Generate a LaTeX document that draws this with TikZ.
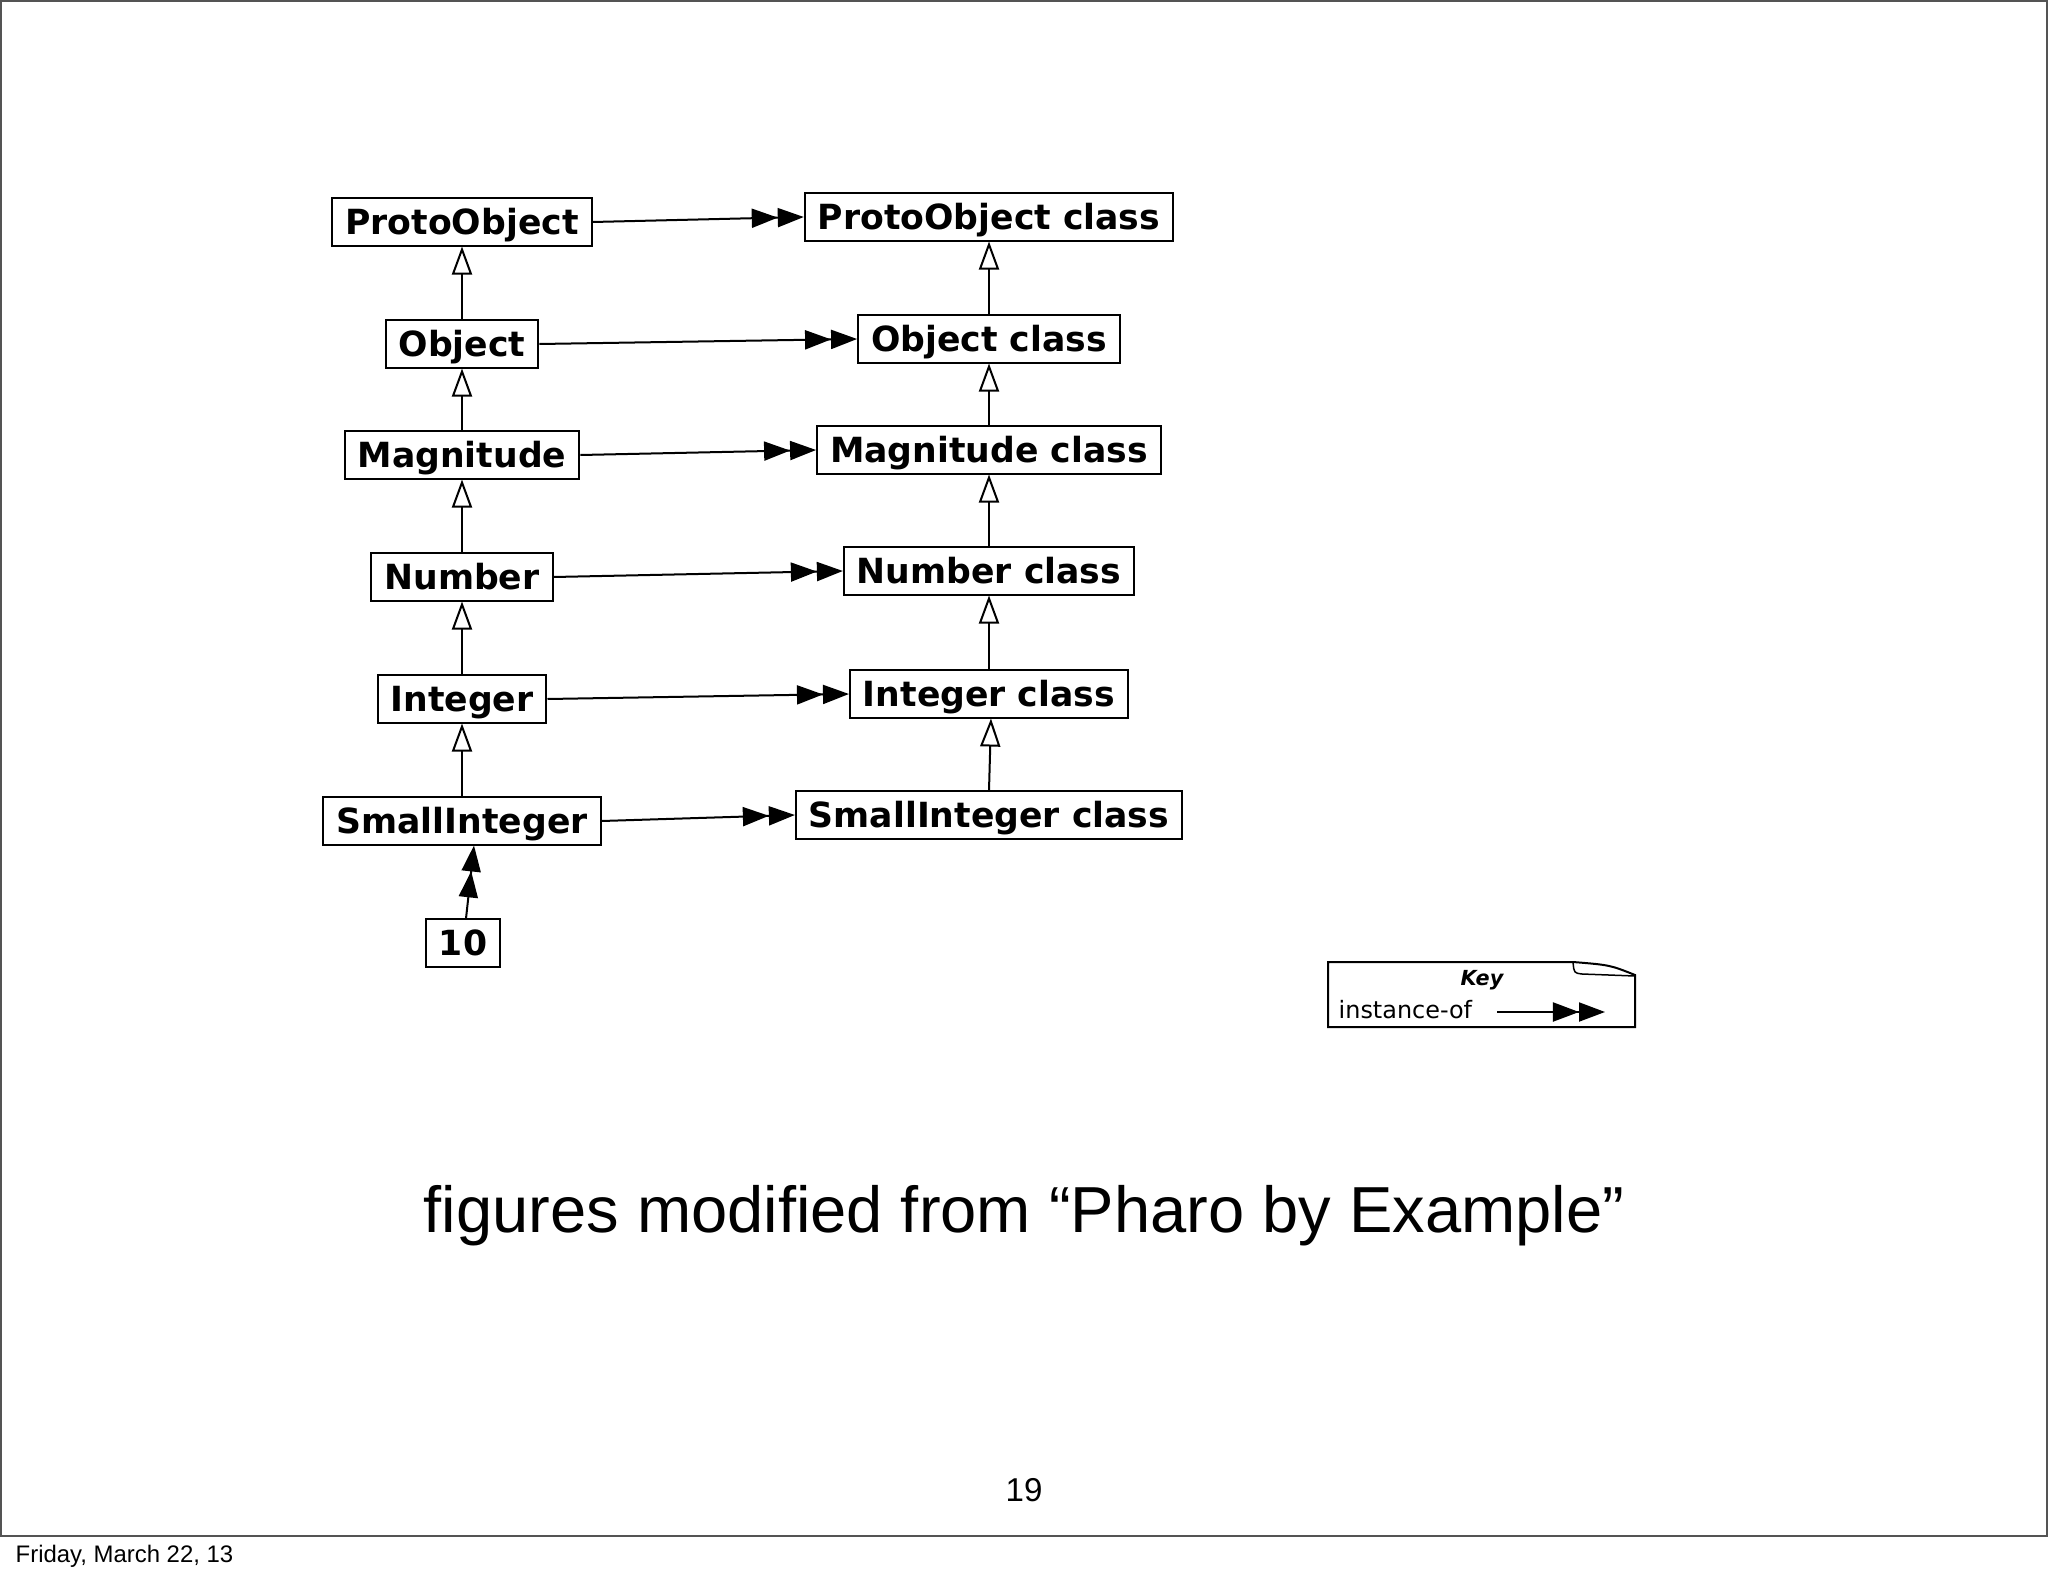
\documentclass[tikz,border=0pt]{standalone}
\usepackage{fontspec}
\setmainfont{Liberation Sans}
\newfontfamily\boxfont{DejaVu Sans}
\usetikzlibrary{arrows.meta}
\begin{document}
\begin{tikzpicture}[x=0.01cm,y=-0.01cm,
        cls/.style={draw,line width=0.02cm,inner xsep=0.13cm,inner ysep=0pt,minimum height=0.47cm,
            text height=0.31cm,text depth=0.06cm,font=\boxfont\bfseries\fontsize{9.85}{12}\selectfont},
        inst/.style={line width=0.02cm,-{Triangle[length=0.26cm,width=0.19cm,sep=0pt]Triangle[length=0.26cm,width=0.19cm]}},
        isa/.style={line width=0.02cm,-{Triangle[open,length=0.28cm,width=0.2cm,fill=white]}}]
        \useasboundingbox (0,0) rectangle (2048,1576);
        \draw[black!67,line width=0.02cm] (1,1) rectangle (2047,1536);
        \node[cls] (proto) at (462,222) {ProtoObject};
        \node[cls] (obj) at (462,344) {Object};
        \node[cls] (mag) at (462,455) {Magnitude};
        \node[cls] (num) at (462,577) {Number};
        \node[cls] (int) at (462,699) {Integer};
        \node[cls] (small) at (462,821) {SmallInteger};
        \node[cls] (ten) at (463,943) {10};
        \node[cls] (protoC) at (989,217) {ProtoObject class};
        \node[cls] (objC) at (989,339) {Object class};
        \node[cls] (magC) at (989,450) {Magnitude class};
        \node[cls] (numC) at (989,571) {Number class};
        \node[cls] (intC) at (989,694) {Integer class};
        \node[cls] (smallC) at (989,815) {SmallInteger class};
        \draw[isa] (obj.north) -- (proto.south);
        \draw[isa] (mag.north) -- (obj.south);
        \draw[isa] (num.north) -- (mag.south);
        \draw[isa] (int.north) -- (num.south);
        \draw[isa] (small.north) -- (int.south);
        \draw[isa] (objC.north) -- (protoC.south);
        \draw[isa] (magC.north) -- (objC.south);
        \draw[isa] (numC.north) -- (magC.south);
        \draw[isa] (intC.north) -- (numC.south);
        \draw[isa] (smallC.north) -- ([xshift=0.02cm]intC.south);
        \draw[inst] (proto.east) -- (protoC.west);
        \draw[inst] (obj.east) -- (objC.west);
        \draw[inst] (mag.east) -- (magC.west);
        \draw[inst] (num.east) -- (numC.west);
        \draw[inst] (int.east) -- (intC.west);
        \draw[inst] (small.east) -- (smallC.west);
        \draw[inst] ([xshift=0.03cm]ten.north) -- ([xshift=0.12cm]small.south);
        \draw[line width=0.02cm] (1328,962) -- (1573,962) .. controls (1610,965) .. (1635,975) -- (1635,1027) -- (1328,1027) -- cycle;
        \draw[line width=0.015cm] (1573,962) .. controls (1574,973) .. (1582,974) -- (1635,976);
        \node[font=\boxfont\bfseries\itshape\fontsize{5.9}{7}\selectfont] (keytitle) at (1482,980) {Key};
        \node[anchor=base west,inner sep=0pt,font=\boxfont\fontsize{6.8}{8}\selectfont] (keyinst) at (1338,1018) {instance-of};
        \coordinate (keyfrom) at (1497,1012);
        \coordinate (keyto) at (1605,1012);
        \draw[inst] (keyfrom) -- (keyto);
        \node[anchor=base,inner sep=0pt,font=\fontsize{18.5}{22}\selectfont] (credit) at (1024,1232) {figures modified from “Pharo by Example”};
        \node[anchor=base,inner sep=0pt,font=\fontsize{9.4}{11}\selectfont] (pagenum) at (1024,1501) {19};
        \node[anchor=base west,inner sep=0pt,font=\fontsize{6.8}{8}\selectfont] (date) at (15,1562) {Friday, March 22, 13};
    \end{tikzpicture}
\end{document}
